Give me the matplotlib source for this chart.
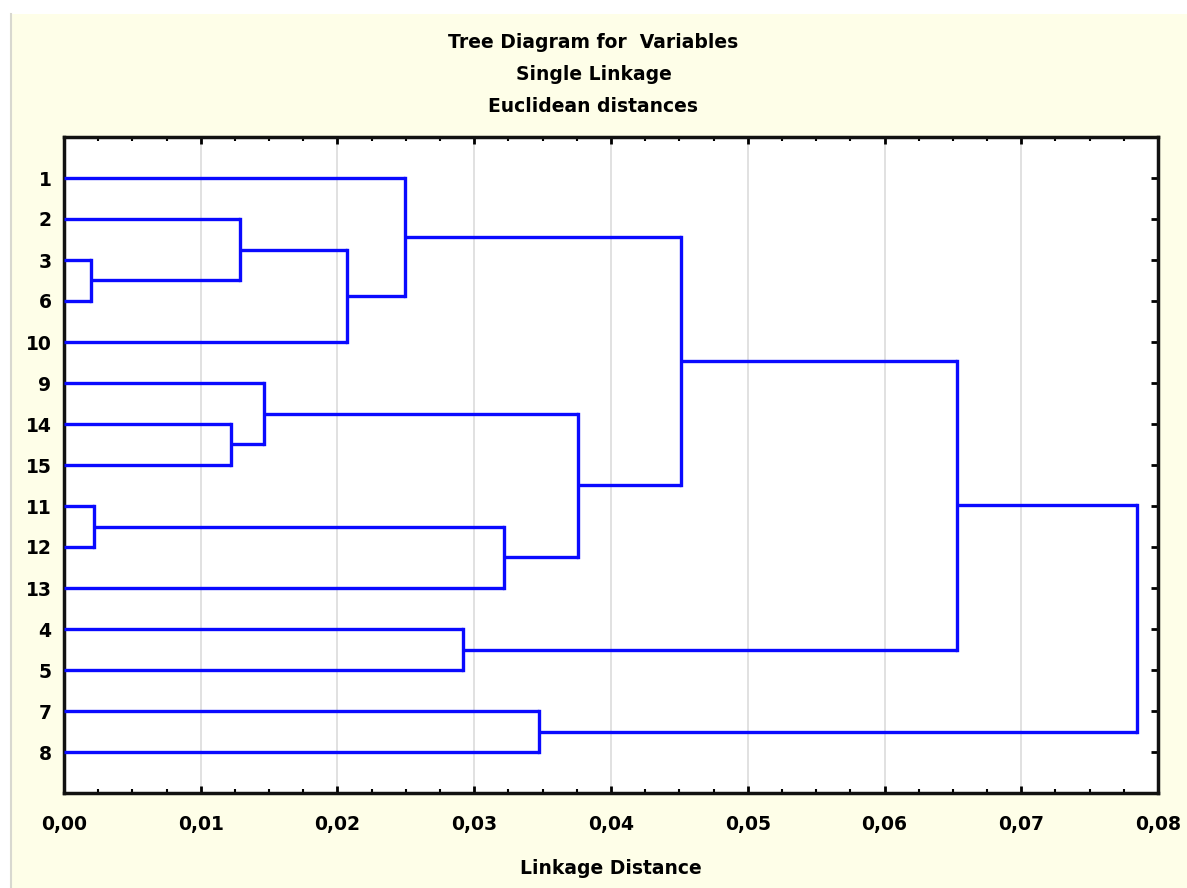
import matplotlib.pyplot as plt
from matplotlib.ticker import MultipleLocator, FuncFormatter

# leaf order, top to bottom
leaves = ["1", "2", "3", "6", "10", "9", "14", "15", "11", "12", "13", "4", "5", "7", "8"]

# merges in order: child a, child b, linkage distance (new cluster i is "c<i>")
merge_a = ["3", "11", "14", "2", "9", "c3", "1", "4", "c1", "7", "c4", "c6", "c11", "c12"]
merge_b = ["6", "12", "15", "c0", "c2", "10", "c5", "5", "13", "8", "c8", "c10", "c7", "c9"]
merge_d = [0.0020, 0.0022, 0.0122, 0.0129, 0.0146, 0.0207, 0.0249, 0.0292,
           0.0322, 0.0347, 0.0376, 0.0451, 0.0653, 0.0785]

font = "DejaVu Sans"
fs = 13.5

fig = plt.figure(figsize=(11.87, 8.88), dpi=100)
fig.patch.set_facecolor("white")
bg = plt.Rectangle((12 / 1187, 0), 1 - 12 / 1187, 1 - 14 / 888, transform=fig.transFigure,
                   facecolor="#fefee8", edgecolor="none", zorder=-10)
fig.patches.append(bg)
fig.add_artist(plt.Line2D([11 / 1187, 11 / 1187], [0, 1 - 14 / 888], transform=fig.transFigure,
                          color="#d8d8d0", lw=1.5))

ax = fig.add_axes([64 / 1187, 1 - 793 / 888, (1158 - 64) / 1187, (793 - 137) / 888])
ax.set_facecolor("white")

# draw the tree; each node sits at the midpoint of its two children
pos = {name: (i + 1, 0.0) for i, name in enumerate(leaves)}
blue = "#0a0aff"
for i, (a, b, d) in enumerate(zip(merge_a, merge_b, merge_d)):
    ya, xa = pos[a]
    yb, xb = pos[b]
    ax.plot([xa, d], [ya, ya], color=blue, lw=2.4, solid_capstyle="butt", zorder=3)
    ax.plot([xb, d], [yb, yb], color=blue, lw=2.4, solid_capstyle="butt", zorder=3)
    ax.plot([d, d], [ya, yb], color=blue, lw=2.4, solid_capstyle="projecting", zorder=3)
    pos["c%d" % i] = ((ya + yb) / 2, d)

ax.set_xlim(0, 0.08)
ax.set_ylim(len(leaves) + 1, 0)
ax.set_yticks(range(1, len(leaves) + 1))
ax.set_yticklabels(leaves)
ax.xaxis.set_major_locator(MultipleLocator(0.01))
ax.xaxis.set_minor_locator(MultipleLocator(0.0025))
ax.xaxis.set_major_formatter(FuncFormatter(lambda v, p: ("%.2f" % v).replace(".", ",")))
ax.grid(axis="x", which="major", color="#dcdcdc", lw=1.2, zorder=0)
ax.tick_params(axis="both", which="major", direction="in", length=5, width=2,
               top=True, right=True, labelsize=fs, pad=9)
ax.tick_params(axis="x", which="major", pad=16)
ax.tick_params(axis="x", which="minor", direction="in", length=3, width=1.5, top=True)
for lab in ax.get_xticklabels() + ax.get_yticklabels():
    lab.set_fontfamily(font)
    lab.set_fontweight("bold")
for s in ax.spines.values():
    s.set_linewidth(2.5)
    s.set_color("#111111")

ax.set_xlabel("Linkage Distance", fontsize=fs, fontweight="bold", family=font, labelpad=18)
titles = ["Tree Diagram for  Variables", "Single Linkage", "Euclidean distances"]
for t, y in zip(titles, [42, 75, 106]):
    fig.text(0.5, 1 - y / 888, t, ha="center", va="center",
             fontsize=fs, fontweight="bold", family=font)

fig.savefig("out.png", dpi=100, facecolor=fig.get_facecolor())
